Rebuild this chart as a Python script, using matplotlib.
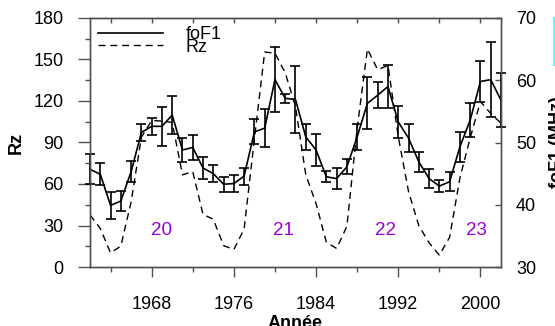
import numpy as np
import matplotlib
matplotlib.use('Agg')
import matplotlib.pyplot as plt
from matplotlib.patches import Rectangle

plt.rcParams['font.family'] = ['Liberation Sans', 'DejaVu Sans']

# Données annuelles
annees = list(range(1962, 2003))

# Nombre de taches solaires Rz (axe gauche)
rz = [37.6, 27.9, 10.2, 15.1, 47.0, 93.8, 105.9, 105.5, 104.5, 66.6,
      68.9, 38.0, 34.5, 15.5, 12.6, 27.5, 92.5, 155.4, 154.6, 140.4,
      115.9, 66.6, 45.9, 17.9, 13.4, 29.4, 100.2, 157.6, 142.6, 145.7,
      94.3, 54.6, 29.9, 17.5, 8.6, 21.5, 64.3, 93.3, 119.6, 111.0, 104.0]

# foF1 (axe droit) et barres d'erreur
fof1 = [45.7, 44.9, 39.9, 40.6, 45.3, 51.6, 52.6, 52.6, 54.4, 48.8,
        49.2, 45.9, 45.0, 43.3, 43.4, 44.6, 51.7, 52.3, 60.1, 57.1,
        56.9, 50.9, 48.8, 44.5, 44.2, 46.1, 50.9, 56.3, 57.6, 59.0,
        53.3, 50.7, 46.9, 44.2, 43.0, 43.7, 49.3, 53.6, 59.8, 60.1, 56.8]
erreur = [2.4, 1.75, 2.2, 1.55, 1.65, 1.4, 1.4, 3.1, 3.0, 1.9,
          1.95, 1.75, 1.35, 1.2, 1.4, 1.35, 2.0, 3.1, 5.2, 0.7,
          5.4, 2.15, 2.6, 0.9, 1.75, 1.2, 2.05, 4.2, 2.05, 3.5,
          2.5, 2.25, 1.6, 1.5, 0.95, 1.5, 2.4, 2.7, 3.3, 6.0, 4.3]

# Numéros des cycles solaires
cycles = ['20', '21', '22', '23']
cycles_x = [1969.0, 1980.8, 1990.8, 1999.6]
cycles_y = [26.7, 26.7, 26.7, 26.7]

gris = '#505050'

fig = plt.figure(figsize=(5.55, 3.26), dpi=100)
ax = fig.add_axes([90/555, 59/326, 411/555, 249/326])
ax2 = ax.twinx()

# Rz en tirets
l_rz, = ax.plot(annees, rz, color='black', lw=1.0, dashes=(5, 3.5), label='Rz')

# foF1 avec barres d'erreur
eb = ax2.errorbar(annees, fof1, yerr=erreur, color='black', lw=1.2,
                  elinewidth=1.2, capsize=3.6, capthick=1.2, clip_on=False)
l_fof1 = eb[0]

ax.set_xlim(1962, 2002)
ax.set_ylim(0, 180)
ax2.set_ylim(30, 70)

ax.set_xticks(np.arange(1968, 2001, 8))
ax.set_xticks(np.arange(1964, 2001, 8), minor=True)
ax.set_yticks(np.arange(0, 181, 30))
ax.set_yticks(np.arange(15, 180, 30), minor=True)
ax2.set_yticks(np.arange(30, 71, 10))

ax.tick_params(axis='x', which='major', direction='out', length=7.2, width=1,
               pad=14, labelsize=13, color=gris, top=False)
ax.tick_params(axis='x', which='minor', direction='out', length=3.6, width=1,
               color=gris, top=False)
ax.tick_params(axis='y', which='major', direction='out', length=8.4, width=1,
               pad=10.8, labelsize=13, color=gris, right=False)
ax.tick_params(axis='y', which='minor', direction='out', length=3.6, width=1,
               color=gris, right=False)
ax2.tick_params(axis='y', which='major', direction='in', length=4, width=1,
                pad=10.8, labelsize=13, color=gris)

# ticks du haut, vers l'intérieur
top = ax.secondary_xaxis('top')
top.set_xticks(np.arange(1964, 2001, 4))
top.tick_params(direction='in', length=3.6, width=1, color=gris, labeltop=False)
top.spines['top'].set_color(gris)

for a in (ax, ax2):
    for s in a.spines.values():
        s.set_color(gris)
        s.set_linewidth(1.0)

ax.set_xlabel('Année', fontsize=13, fontweight='bold', labelpad=1)
ax.set_ylabel('Rz', fontsize=13, fontweight='bold', labelpad=6)
ax2.set_ylabel('foF1 (MHz)', fontsize=13, fontweight='bold', labelpad=9.5,
               rotation=90)

for t, x, y in zip(cycles, cycles_x, cycles_y):
    ax.text(x, y, t, color='#9c00d4', fontsize=13.5, ha='center', va='center')

ax2.legend([l_fof1, l_rz], ['foF1', 'Rz'], loc='upper left',
           bbox_to_anchor=(0.0, 1.0), frameon=False, fontsize=13,
           handlelength=3.6, handletextpad=1.25, labelspacing=-0.25,
           borderaxespad=0.25, borderpad=0.2)

# petit rectangle cyan coupé en haut à droite
fig.patches.append(Rectangle((554/555, 1 - 65/326), 10/555, 47/326,
                             transform=fig.transFigure, facecolor='#e8ffff',
                             edgecolor='#55ffff', lw=1.5))

fig.savefig('out.png', dpi=100)
